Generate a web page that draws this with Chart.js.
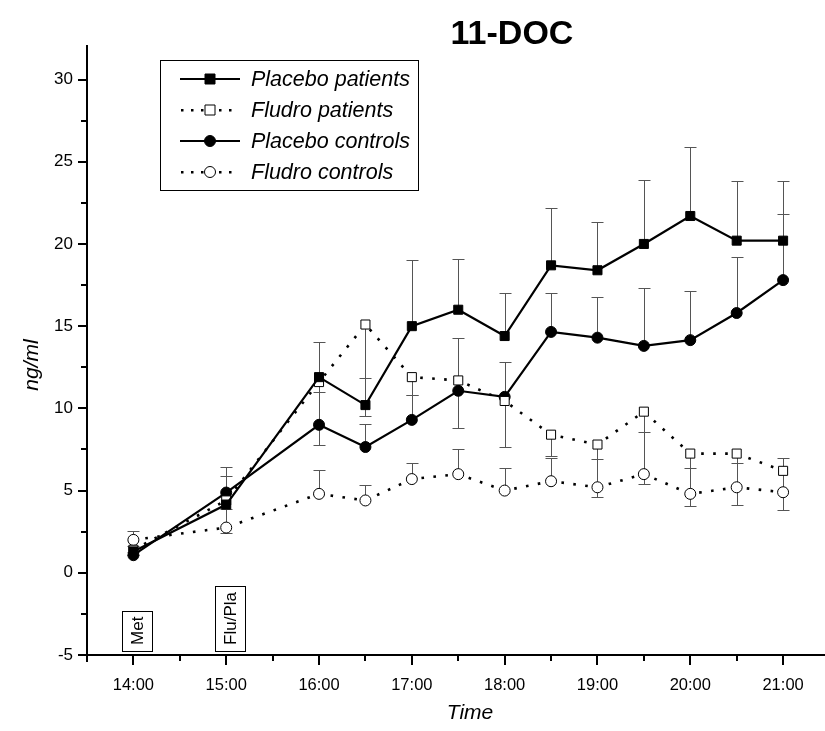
<!DOCTYPE html>
<html>
<head>
<meta charset="utf-8">
<title>11-DOC</title>
<script src="https://cdn.jsdelivr.net/npm/chart.js@4.4.1/dist/chart.umd.min.js"></script>
<style>
  html, body { margin: 0; padding: 0; background: #fff; }
  #wrap { position: relative; width: 825px; height: 731px; }
</style>
</head>
<body>
<div id="wrap"><canvas id="docChart" width="825" height="731"></canvas></div>
<script>
// sampling times in hours (16.5 = 16:30)
const times = [14, 15, 16, 16.5, 17, 17.5, 18, 18.5, 19, 19.5, 20, 20.5, 21];
const hourTicks = [14, 15, 16, 17, 18, 19, 20, 21];
const hourLabels = ['14:00', '15:00', '16:00', '17:00', '18:00', '19:00', '20:00', '21:00'];
const yTicks = [-5, 0, 5, 10, 15, 20, 25, 30];

const seriesNames = ['Placebo patients', 'Fludro patients', 'Placebo controls', 'Fludro controls'];

const placeboPatients = [1.3, 4.15, 11.9, 10.2, 15.0, 16.0, 14.4, 18.7, 18.4, 20.0, 21.7, 20.2, 20.2];
const placeboPatientsErr = [0.3, 2.3, 2.15, 1.65, 4.0, 3.1, 2.6, 3.5, 2.95, 3.9, 4.2, 3.6, 3.6];

const fludroPatients = [1.4, 4.4, 11.6, 15.1, 11.9, 11.7, 10.45, 8.4, 7.8, 9.8, 7.25, 7.25, 6.2];
const fludroPatientsErr = [0.3, 2.0, 3.85, 5.55, 1.1, 2.9, 2.8, 1.3, 3.2, 4.4, 3.2, 3.1, 2.4];

const placeboControls = [1.07, 4.88, 9.0, 7.65, 9.3, 11.07, 10.7, 14.65, 14.3, 13.8, 14.15, 15.8, 17.8];
const placeboControlsErr = [0.2, 1.0, 2.0, 1.4, 1.5, 3.2, 2.1, 2.35, 2.45, 3.5, 3.0, 3.4, 4.0];

const fludroControls = [2.0, 2.75, 4.8, 4.4, 5.7, 6.0, 5.0, 5.57, 5.2, 6.0, 4.8, 5.2, 4.9];
const fludroControlsErr = [0.55, 1.15, 1.45, 0.95, 1.0, 1.5, 1.4, 1.4, 1.75, 2.55, 1.6, 1.5, 2.1];

// markers on the x axis
const noteTexts = ['Met', 'Flu/Pla'];
const noteTimes = [14, 15];

const FONT = '"Liberation Sans", Arial, sans-serif';

function toPoints(ys) {
    return times.map((t, i) => ({ x: t, y: ys[i] }));
}

const originDecor = {
    id: 'originDecor',
    beforeDatasetsDraw(chart) {
        // error bars, one direction per series
        const c = chart.ctx;
        const xs = chart.scales.x, ys = chart.scales.y;
        c.save();
        c.strokeStyle = '#555';
        c.lineWidth = 1;
        chart.data.datasets.forEach(ds => {
            ds.data.forEach((p, i) => {
                const px = Math.round(xs.getPixelForValue(p.x)) + 0.5;
                const y0 = ys.getPixelForValue(p.y);
                const y1 = Math.round(ys.getPixelForValue(p.y + ds.errDir * ds.errors[i])) + 0.5;
                c.beginPath();
                c.moveTo(px, y0);
                c.lineTo(px, y1);
                c.moveTo(px - 6, y1);
                c.lineTo(px + 6, y1);
                c.stroke();
            });
        });
        c.restore();
    },
    afterDraw(chart) {
        const c = chart.ctx;
        const xs = chart.scales.x, ys = chart.scales.y;
        const area = chart.chartArea;
        c.save();
        c.strokeStyle = '#000';
        c.fillStyle = '#000';

        // axis lines
        c.lineWidth = 2;
        c.beginPath();
        c.moveTo(area.left, area.top);
        c.lineTo(area.left, area.bottom + 7);
        c.moveTo(area.left - 1, area.bottom);
        c.lineTo(825, area.bottom);
        c.stroke();

        // ticks
        for (let h = 13.5; h <= 21.5; h += 0.5) {
            const px = Math.round(xs.getPixelForValue(h));
            if (px > 825) break;
            const len = Number.isInteger(h) ? 10 : 6;
            c.beginPath();
            c.moveTo(px, area.bottom);
            c.lineTo(px, area.bottom + len);
            c.stroke();
        }
        for (let v = -5; v <= 30; v += 2.5) {
            const py = Math.round(ys.getPixelForValue(v));
            const len = v % 5 === 0 ? 9 : 6;
            c.beginPath();
            c.moveTo(area.left, py);
            c.lineTo(area.left - len, py);
            c.stroke();
        }

        // title and axis titles
        c.textAlign = 'center';
        c.textBaseline = 'alphabetic';
        c.font = 'bold 34px ' + FONT;
        c.fillText('11-DOC', 512, 44);

        c.font = 'italic 21px ' + FONT;
        c.fillText('Time', 470, 719);
        c.save();
        c.translate(38, 365);
        c.rotate(-Math.PI / 2);
        c.fillText('ng/ml', 0, 0);
        c.restore();

        // boxed notes on the time axis
        c.font = '17px ' + FONT;
        c.lineWidth = 1;
        noteTexts.forEach((txt, i) => {
            const cx = xs.getPixelForValue(noteTimes[i]) + 4;
            const bottom = ys.getPixelForValue(-4.75);
            const tw = c.measureText(txt).width;
            const h = tw + 12, w = 30;
            c.fillStyle = '#fff';
            c.fillRect(cx - w / 2, bottom - h, w, h);
            c.strokeRect(Math.round(cx - w / 2) + 0.5, Math.round(bottom - h) + 0.5, w, Math.round(h));
            c.fillStyle = '#000';
            c.save();
            c.translate(cx + 6, bottom - h / 2);
            c.rotate(-Math.PI / 2);
            c.textAlign = 'center';
            c.fillText(txt, 0, 0);
            c.restore();
        });

        // legend
        c.lineWidth = 1;
        c.strokeRect(160.5, 60.5, 258, 130);
        c.font = 'italic 21.5px ' + FONT;
        c.textAlign = 'left';
        c.textBaseline = 'middle';
        const rowY = [79, 110, 141, 172];
        chart.data.datasets.forEach((ds, i) => {
            const y = rowY[i];
            c.strokeStyle = '#000';
            if (ds.borderDash && ds.borderDash.length) {
                for (const dx of [181, 191, 201, 219, 229]) {
                    c.fillRect(dx, y - 1, 2.5, 2.5);
                }
            } else {
                c.lineWidth = 2;
                c.beginPath();
                c.moveTo(180, y);
                c.lineTo(240, y);
                c.stroke();
            }
            c.lineWidth = 1;
            c.fillStyle = ds.pointBackgroundColor;
            c.beginPath();
            if (ds.pointStyle === 'rect') {
                c.rect(205, y - 5, 10, 10);
            } else {
                c.arc(210, y, 5.5, 0, Math.PI * 2);
            }
            c.fill();
            c.stroke();
            c.fillStyle = '#000';
            c.fillText(ds.label, 251, y + 1);
        });
        c.restore();
    }
};

const ctx = document.getElementById('docChart').getContext('2d');

const docChart = new Chart(ctx, {
    type: 'line',
    data: {
        datasets: [
            {
                label: seriesNames[0],
                data: toPoints(placeboPatients),
                errors: placeboPatientsErr, errDir: 1,
                borderColor: '#000', borderWidth: 2.2,
                pointStyle: 'rect', pointRadius: 6.4,
                pointBackgroundColor: '#000', pointBorderColor: '#000', pointBorderWidth: 1
            },
            {
                label: seriesNames[1],
                data: toPoints(fludroPatients),
                errors: fludroPatientsErr, errDir: -1,
                borderColor: '#000', borderWidth: 2.6, borderDash: [2.6, 9.4],
                pointStyle: 'rect', pointRadius: 6.4,
                pointBackgroundColor: '#fff', pointBorderColor: '#000', pointBorderWidth: 1
            },
            {
                label: seriesNames[2],
                data: toPoints(placeboControls),
                errors: placeboControlsErr, errDir: 1,
                borderColor: '#000', borderWidth: 2.2,
                pointStyle: 'circle', pointRadius: 5.5,
                pointBackgroundColor: '#000', pointBorderColor: '#000', pointBorderWidth: 1
            },
            {
                label: seriesNames[3],
                data: toPoints(fludroControls),
                errors: fludroControlsErr, errDir: 1,
                borderColor: '#000', borderWidth: 2.6, borderDash: [2.6, 9.4],
                pointStyle: 'circle', pointRadius: 5.5,
                pointBackgroundColor: '#fff', pointBorderColor: '#000', pointBorderWidth: 1
            }
        ]
    },
    options: {
        responsive: false,
        animation: false,
        layout: { padding: { top: 45, left: 0, right: 0, bottom: 0 } },
        plugins: {
            legend: { display: false },
            tooltip: { enabled: false }
        },
        scales: {
            x: {
                type: 'linear',
                min: 13.5,
                max: 21.28,
                afterBuildTicks: s => { s.ticks = hourTicks.map(v => ({ value: v })); },
                afterFit: s => { s.height = 76; },
                grid: { display: false, drawTicks: false },
                border: { display: false },
                ticks: {
                    autoSkip: false, maxRotation: 0, padding: 21,
                    color: '#000',
                    font: { family: FONT, size: 16.5 },
                    callback: v => hourLabels[hourTicks.indexOf(v)]
                }
            },
            y: {
                min: -5,
                max: 32.1,
                afterBuildTicks: s => { s.ticks = yTicks.map(v => ({ value: v })); },
                afterFit: s => { s.width = 87; },
                grid: { display: false, drawTicks: false },
                border: { display: false },
                ticks: {
                    padding: 14,
                    color: '#000',
                    font: { family: FONT, size: 17 },
                    callback: v => String(v)
                }
            }
        }
    },
    plugins: [originDecor]
});
</script>
</body>
</html>
